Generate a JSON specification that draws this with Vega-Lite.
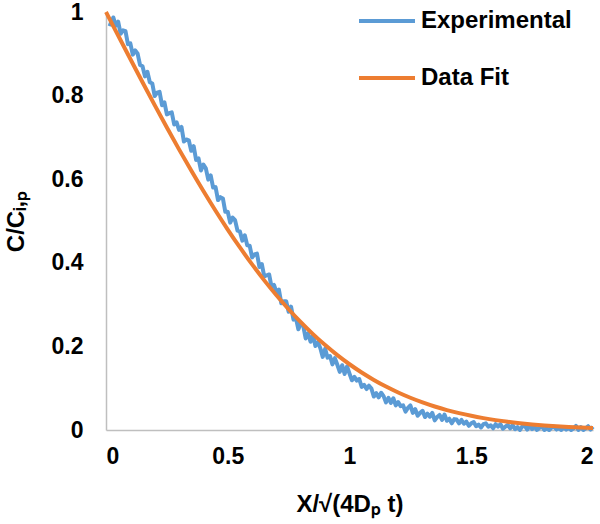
{
  "$schema": "https://vega.github.io/schema/vega-lite/v6.json",
  "width": 487,
  "height": 418,
  "autosize": {"type": "none"},
  "padding": {"left": 106, "top": 12, "right": 7, "bottom": 94},
  "background": "white",
  "config": {
    "view": {"stroke": null},
    "font": "Liberation Sans",
    "axis": {
      "grid": false,
      "ticks": false,
      "domainColor": "#BFBFBF",
      "domainWidth": 1.5,
      "labelFont": "Liberation Sans",
      "labelFontSize": 23,
      "labelFontWeight": "bold",
      "labelColor": "#000000",
      "titleFont": "Liberation Sans",
      "titleFontSize": 24,
      "titleFontWeight": "bold",
      "titleColor": "#000000"
    },
    "legend": {
      "orient": "none",
      "legendX": 251,
      "legendY": -21,
      "padding": 0,
      "symbolType": "stroke",
      "symbolSize": 3136,
      "symbolStrokeWidth": 4,
      "labelFont": "Liberation Sans",
      "labelFontSize": 24,
      "labelFontWeight": "bold",
      "labelColor": "#000000",
      "labelOffset": 4,
      "rowPadding": 15,
      "title": null
    }
  },
  "datasets": {
    "exp": [
      {"x":0.01,"y":0.972},{"x":0.02,"y":0.970},{"x":0.03,"y":0.987},{"x":0.04,"y":0.967},{"x":0.05,"y":0.977},
      {"x":0.06,"y":0.948},{"x":0.07,"y":0.956},{"x":0.08,"y":0.954},{"x":0.09,"y":0.923},{"x":0.10,"y":0.925},
      {"x":0.11,"y":0.898},{"x":0.12,"y":0.908},{"x":0.13,"y":0.900},{"x":0.14,"y":0.873},{"x":0.15,"y":0.870},
      {"x":0.16,"y":0.846},{"x":0.17,"y":0.857},{"x":0.18,"y":0.832},{"x":0.19,"y":0.829},{"x":0.20,"y":0.799},
      {"x":0.21,"y":0.807},{"x":0.22,"y":0.809},{"x":0.23,"y":0.777},{"x":0.24,"y":0.784},{"x":0.25,"y":0.755},
      {"x":0.26,"y":0.758},{"x":0.27,"y":0.760},{"x":0.28,"y":0.731},{"x":0.29,"y":0.736},{"x":0.30,"y":0.718},
      {"x":0.31,"y":0.725},{"x":0.32,"y":0.690},{"x":0.33,"y":0.695},{"x":0.34,"y":0.693},{"x":0.35,"y":0.668},
      {"x":0.36,"y":0.679},{"x":0.37,"y":0.646},{"x":0.38,"y":0.650},{"x":0.39,"y":0.621},{"x":0.40,"y":0.635},
      {"x":0.41,"y":0.626},{"x":0.42,"y":0.599},{"x":0.43,"y":0.609},{"x":0.44,"y":0.580},{"x":0.45,"y":0.581},
      {"x":0.46,"y":0.550},{"x":0.47,"y":0.557},{"x":0.48,"y":0.554},{"x":0.49,"y":0.522},{"x":0.50,"y":0.522},
      {"x":0.51,"y":0.496},{"x":0.52,"y":0.508},{"x":0.53,"y":0.502},{"x":0.54,"y":0.477},{"x":0.55,"y":0.475},
      {"x":0.56,"y":0.453},{"x":0.57,"y":0.466},{"x":0.58,"y":0.442},{"x":0.59,"y":0.441},{"x":0.60,"y":0.413},
      {"x":0.61,"y":0.420},{"x":0.62,"y":0.422},{"x":0.63,"y":0.390},{"x":0.64,"y":0.397},{"x":0.65,"y":0.367},
      {"x":0.66,"y":0.370},{"x":0.67,"y":0.372},{"x":0.68,"y":0.342},{"x":0.69,"y":0.347},{"x":0.70,"y":0.329},
      {"x":0.71,"y":0.336},{"x":0.72,"y":0.303},{"x":0.73,"y":0.308},{"x":0.74,"y":0.308},{"x":0.75,"y":0.283},
      {"x":0.76,"y":0.295},{"x":0.77,"y":0.264},{"x":0.78,"y":0.268},{"x":0.79,"y":0.241},{"x":0.80,"y":0.256},
      {"x":0.81,"y":0.249},{"x":0.82,"y":0.219},{"x":0.83,"y":0.231},{"x":0.84,"y":0.211},{"x":0.85,"y":0.227},
      {"x":0.86,"y":0.201},{"x":0.87,"y":0.210},{"x":0.88,"y":0.196},{"x":0.89,"y":0.175},{"x":0.90,"y":0.194},
      {"x":0.91,"y":0.173},{"x":0.92,"y":0.177},{"x":0.93,"y":0.157},{"x":0.94,"y":0.172},{"x":0.95,"y":0.156},
      {"x":0.96,"y":0.139},{"x":0.97,"y":0.155},{"x":0.98,"y":0.134},{"x":0.99,"y":0.152},{"x":1.00,"y":0.135},
      {"x":1.01,"y":0.119},{"x":1.02,"y":0.127},{"x":1.03,"y":0.118},{"x":1.04,"y":0.122},{"x":1.05,"y":0.103},
      {"x":1.06,"y":0.108},{"x":1.07,"y":0.098},{"x":1.08,"y":0.106},{"x":1.09,"y":0.099},{"x":1.10,"y":0.080},
      {"x":1.11,"y":0.088},{"x":1.12,"y":0.078},{"x":1.13,"y":0.089},{"x":1.14,"y":0.081},{"x":1.15,"y":0.066},
      {"x":1.16,"y":0.077},{"x":1.17,"y":0.065},{"x":1.18,"y":0.076},{"x":1.19,"y":0.059},{"x":1.20,"y":0.067},
      {"x":1.21,"y":0.057},{"x":1.22,"y":0.059},{"x":1.23,"y":0.044},{"x":1.24,"y":0.053},{"x":1.25,"y":0.059},
      {"x":1.26,"y":0.041},{"x":1.27,"y":0.050},{"x":1.28,"y":0.034},{"x":1.29,"y":0.041},{"x":1.30,"y":0.046},
      {"x":1.31,"y":0.031},{"x":1.32,"y":0.039},{"x":1.33,"y":0.032},{"x":1.34,"y":0.041},{"x":1.35,"y":0.023},
      {"x":1.36,"y":0.031},{"x":1.37,"y":0.036},{"x":1.38,"y":0.024},{"x":1.39,"y":0.037},{"x":1.40,"y":0.022},
      {"x":1.41,"y":0.027},{"x":1.42,"y":0.016},{"x":1.43,"y":0.026},{"x":1.44,"y":0.025},{"x":1.45,"y":0.016},
      {"x":1.46,"y":0.024},{"x":1.47,"y":0.015},{"x":1.48,"y":0.020},{"x":1.49,"y":0.010},{"x":1.50,"y":0.016},
      {"x":1.51,"y":0.019},{"x":1.52,"y":0.009},{"x":1.53,"y":0.013},{"x":1.54,"y":0.006},{"x":1.55,"y":0.014},
      {"x":1.56,"y":0.016},{"x":1.57,"y":0.008},{"x":1.58,"y":0.011},{"x":1.59,"y":0.004},{"x":1.60,"y":0.014},
      {"x":1.61,"y":0.008},{"x":1.62,"y":0.014},{"x":1.63,"y":0.003},{"x":1.64,"y":0.008},{"x":1.65,"y":0.012},
      {"x":1.66,"y":0.004},{"x":1.67,"y":0.012},{"x":1.68,"y":0.002},{"x":1.69,"y":0.007},{"x":1.70,"y":0.000},
      {"x":1.71,"y":0.009},{"x":1.72,"y":0.010},{"x":1.73,"y":0.001},{"x":1.74,"y":0.010},{"x":1.75,"y":0.002},
      {"x":1.76,"y":0.008},{"x":1.77,"y":0.000},{"x":1.78,"y":0.005},{"x":1.79,"y":0.009},{"x":1.80,"y":0.000},
      {"x":1.81,"y":0.004},{"x":1.82,"y":0.000},{"x":1.83,"y":0.006},{"x":1.84,"y":0.008},{"x":1.85,"y":0.001},
      {"x":1.86,"y":0.004},{"x":1.87,"y":0.000},{"x":1.88,"y":0.007},{"x":1.89,"y":0.001},{"x":1.90,"y":0.005},
      {"x":1.91,"y":0.000},{"x":1.92,"y":0.004},{"x":1.93,"y":0.010},{"x":1.94,"y":0.000},{"x":1.95,"y":0.007},
      {"x":1.96,"y":0.000},{"x":1.97,"y":0.004},{"x":1.98,"y":0.009},{"x":1.99,"y":0.001},{"x":2.00,"y":0.008}
    ],
    "fit": [
      {"x":0.00,"y":1.0},{"x":0.05,"y":0.94363},{"x":0.10,"y":0.88754},{"x":0.15,"y":0.832},{"x":0.20,"y":0.7773},
      {"x":0.25,"y":0.72367},{"x":0.30,"y":0.67137},{"x":0.35,"y":0.62062},{"x":0.40,"y":0.57161},{"x":0.45,"y":0.52452},
      {"x":0.50,"y":0.4795},{"x":0.55,"y":0.43668},{"x":0.60,"y":0.39614},{"x":0.65,"y":0.35797},{"x":0.70,"y":0.3222},
      {"x":0.75,"y":0.28884},{"x":0.80,"y":0.2579},{"x":0.85,"y":0.22933},{"x":0.90,"y":0.20309},{"x":0.95,"y":0.17911},
      {"x":1.00,"y":0.1573},{"x":1.05,"y":0.13756},{"x":1.10,"y":0.11979},{"x":1.15,"y":0.10388},{"x":1.20,"y":0.08969},
      {"x":1.25,"y":0.0771},{"x":1.30,"y":0.06599},{"x":1.35,"y":0.05624},{"x":1.40,"y":0.04771},{"x":1.45,"y":0.0403},
      {"x":1.50,"y":0.03389},{"x":1.55,"y":0.02838},{"x":1.60,"y":0.02365},{"x":1.65,"y":0.01962},{"x":1.70,"y":0.01621},
      {"x":1.75,"y":0.01333},{"x":1.80,"y":0.01091},{"x":1.85,"y":0.00889},{"x":1.90,"y":0.00721},{"x":1.95,"y":0.00582},
      {"x":2.00,"y":0.00468}
    ]
  },
  "layer": [
    {
      "data": {"name": "exp"},
      "mark": {"type": "line", "strokeWidth": 4, "strokeJoin": "round", "clip": false},
      "encoding": {
        "x": {
          "field": "x", "type": "quantitative",
          "scale": {"domain": [0, 2], "nice": false},
          "axis": {"values": [0, 0.5, 1, 1.5, 2], "format": "~g", "labelPadding": 15, "titlePadding": 24},
          "title": "X/√(4Dₚ t)"
        },
        "y": {
          "field": "y", "type": "quantitative",
          "scale": {"domain": [0, 1], "nice": false},
          "axis": {"values": [0, 0.2, 0.4, 0.6, 0.8, 1], "format": "~g", "labelPadding": 23, "titlePadding": 23},
          "title": "C/Cᵢ,ₚ"
        },
        "color": {
          "datum": "Experimental",
          "scale": {"domain": ["Experimental", "Data Fit"], "range": ["#5B9BD5", "#ED7D31"]}
        }
      }
    },
    {
      "data": {"name": "fit"},
      "mark": {"type": "line", "strokeWidth": 4, "interpolate": "monotone"},
      "encoding": {
        "x": {"field": "x", "type": "quantitative"},
        "y": {"field": "y", "type": "quantitative"},
        "color": {"datum": "Data Fit"}
      }
    }
  ]
}
